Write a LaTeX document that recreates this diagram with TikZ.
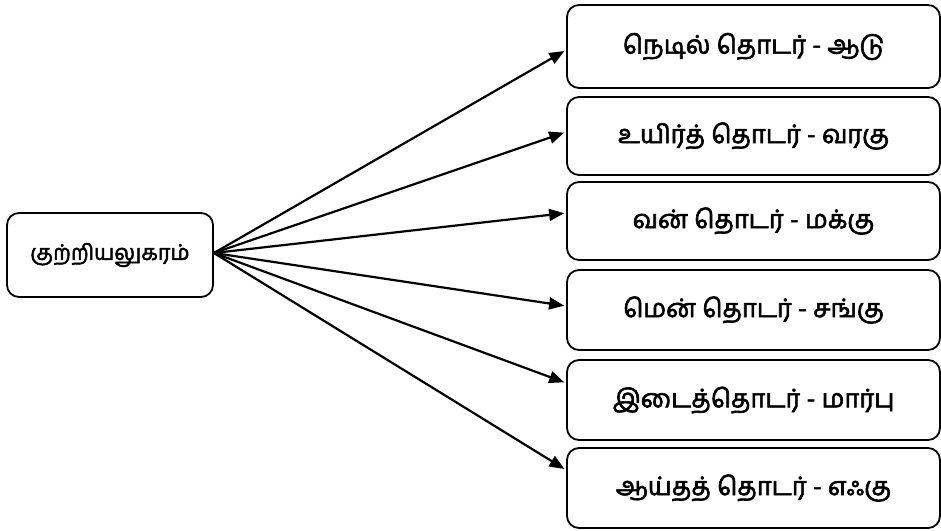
\documentclass[tikz,border=0pt]{standalone}
\usepackage{fontspec}
\newfontfamily\tamil[Script=Tamil, FakeBold=2.5]{Hind Madurai}
\usetikzlibrary{arrows.meta}
\tikzset{
  box/.style={draw=black, line width=1.8pt, rounded corners=12pt, minimum width=373pt, font=\tamil\fontsize{25.5}{29}\selectfont, anchor=center, inner sep=0pt},
  conn/.style={line width=2.2pt, -{Triangle[length=15pt,width=12pt]}, shorten >=2pt}
}
\begin{document}
\begin{tikzpicture}[x=1pt,y=-1pt]
\fill[white] (0,0) rectangle (941,530);
\useasboundingbox (0,0) rectangle (941,530);
\node[box, minimum width=206pt, minimum height=84pt, font=\tamil\fontsize{21.5}{25}\selectfont] (L) at (110,255) {குற்றியலுகரம்};
\node[box, minimum height=83pt] (b1) at (753.5,46.5) {நெடில் தொடர் - ஆடு};
\node[box, minimum height=78pt] (b2) at (753.5,136) {உயிர்த் தொடர் - வரகு};
\node[box, minimum height=78pt] (b3) at (753.5,221) {வன் தொடர் - மக்கு};
\node[box, minimum height=80pt] (b4) at (753.5,310) {மென் தொடர் - சங்கு};
\node[box, minimum height=80pt] (b5) at (753.5,400) {இடைத்தொடர் - மார்பு};
\node[box, minimum height=80pt] (b6) at (753.5,488) {ஆய்தத் தொடர் - எஃகு};
\coordinate (s) at ([yshift=2pt]L.east);
\draw[conn] (s) -- ([yshift=-3.5pt]b1.west);
\draw[conn] (s) -- ([yshift=4pt]b2.west);
\draw[conn] (s) -- ([yshift=8pt]b3.west);
\draw[conn] (s) -- ([yshift=4pt]b4.west);
\draw[conn] (s) -- ([yshift=17pt]b5.west);
\draw[conn] (s) -- ([yshift=18pt]b6.west);
\end{tikzpicture}
\end{document}
